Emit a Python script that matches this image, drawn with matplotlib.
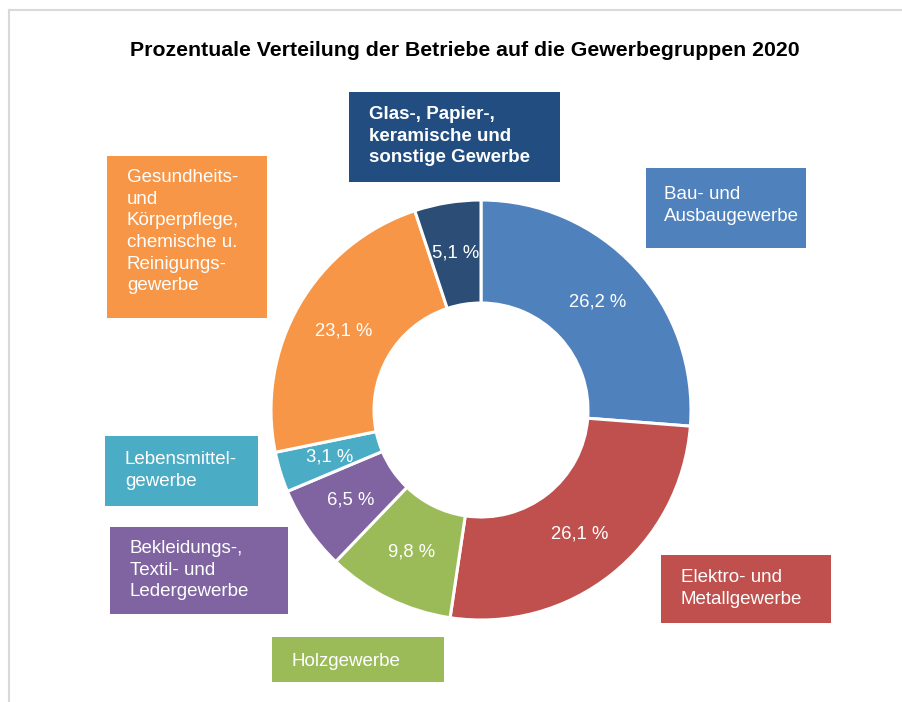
"""Ringdiagramm: Verteilung der Betriebe auf die Gewerbegruppen 2020."""
import matplotlib
matplotlib.use("Agg")
import matplotlib.pyplot as plt
import numpy as np
from matplotlib.patches import Rectangle

plt.rcParams["font.family"] = ["Liberation Sans", "DejaVu Sans"]

# Daten (Uhrzeigersinn ab 12 Uhr)
gruppen = [
    "Bau- und\nAusbaugewerbe",
    "Elektro- und\nMetallgewerbe",
    "Holzgewerbe",
    "Bekleidungs-,\nTextil- und\nLedergewerbe",
    "Lebensmittel-\ngewerbe",
    "Gesundheits-\nund\nKörperpflege,\nchemische u.\nReinigungs-\ngewerbe",
    "Glas-, Papier-,\nkeramische und\nsonstige Gewerbe",
]
anteile = [26.2, 26.1, 9.8, 6.5, 3.1, 23.1, 5.1]
farben = ["#4F81BD", "#C0504D", "#9BBB59", "#8064A2", "#4BACC6", "#F79646", "#2C4D75"]
box_farben = ["#4F81BD", "#C0504D", "#9BBB59", "#8064A2", "#4BACC6", "#F79646", "#214D80"]

W, H = 903, 702

# Kästchen der Beschriftungen in Pixeln: (x0, y0, x1, y1), Textanfang (x, y)
boxen = [
    ((646, 168, 806, 248), (664, 186)),
    ((661, 555, 831, 623), (681, 569)),
    ((272, 637, 444, 682), (292, 653)),
    ((110, 527, 288, 614), (130, 540)),
    ((105, 436, 258, 506), (125, 451)),
    ((107, 156, 267, 318), (127, 169)),
    ((349, 92, 560, 182), (369, 106)),
]

fig = plt.figure(figsize=(W / 100, H / 100), dpi=100)
ax = fig.add_axes([0, 0, 1, 1])

cx, cy, R = 481, H - 410, 210
wedges, _ = ax.pie(
    anteile,
    colors=farben,
    startangle=90,
    counterclock=False,
    radius=R,
    center=(cx, cy),
    wedgeprops=dict(width=103, edgecolor="white", linewidth=2.2),
)

for w, v in zip(wedges, anteile):
    theta = np.deg2rad((w.theta1 + w.theta2) / 2)
    r = 0.755 * R
    ax.text(cx + r * np.cos(theta), cy + r * np.sin(theta),
            f"{v:.1f} %".replace(".", ","), color="white", fontsize=13.3,
            ha="center", va="center")

for i, (text, ((x0, y0, x1, y1), (tx, ty))) in enumerate(zip(gruppen, boxen)):
    ax.add_patch(Rectangle((x0, H - y1), x1 - x0, y1 - y0,
                           facecolor=box_farben[i], edgecolor="none"))
    ax.text(tx, H - ty, text, color="white", fontsize=13.5, ha="left", va="top",
            linespacing=1.36, fontweight="bold" if i == 6 else "normal")

ax.text(465, H - 50, "Prozentuale Verteilung der Betriebe auf die Gewerbegruppen 2020",
        fontsize=15.3, fontweight="bold", ha="center", va="center")

# Rahmen oben und links
ax.plot([9, W], [H - 10, H - 10], color="#D9D9D9", linewidth=1.5)
ax.plot([9, 9], [H - 10, 0], color="#D9D9D9", linewidth=1.5)

ax.set_xlim(0, W)
ax.set_ylim(0, H)
ax.axis("off")

fig.savefig("out.png", dpi=100, facecolor="white")
